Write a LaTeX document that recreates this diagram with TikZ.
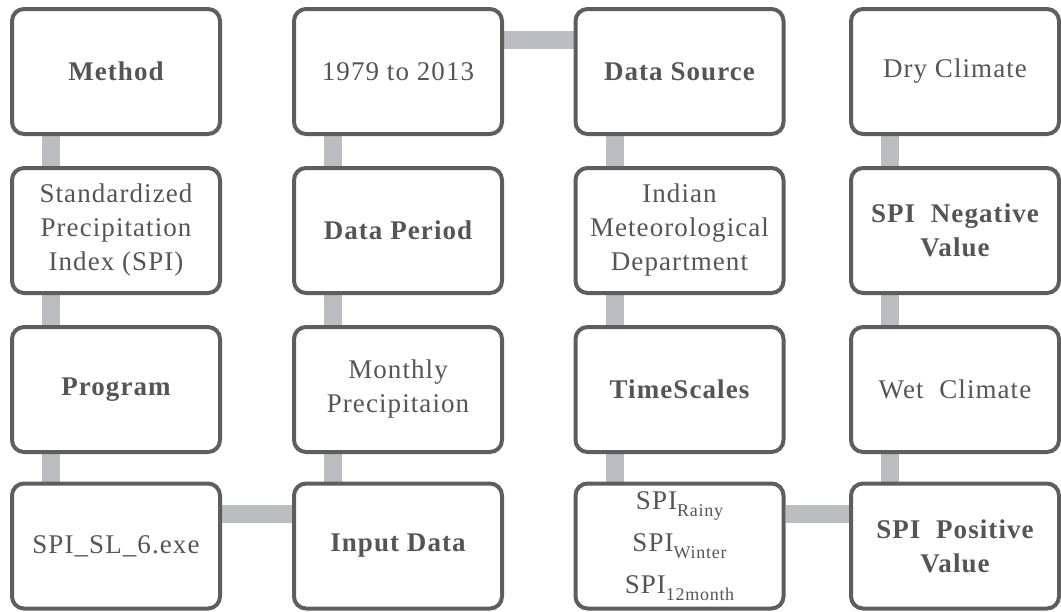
\documentclass[tikz,border=0pt]{standalone}
\usepackage{fontspec}
\setmainfont[LetterSpace=4]{Liberation Serif}
\usetikzlibrary{backgrounds}
\definecolor{boxline}{HTML}{5E5E5E}
\definecolor{bargray}{HTML}{BCBDC0}
\definecolor{txt}{HTML}{555555}
\newcommand{\subtxt}[1]{\raisebox{-7pt}{\fontsize{18}{18}\selectfont #1}}
\begin{document}
\begin{tikzpicture}[x=1pt,y=-1pt,
  card/.style={draw=boxline,line width=4pt,rounded corners=12pt,fill=white,
    minimum width=208pt,minimum height=125pt,inner sep=0pt,align=center,
    text=txt,font=\fontsize{27}{34}\selectfont},
  bcard/.style={card,font=\fontsize{27}{34}\selectfont\bfseries},
  bar/.style={draw=bargray,line width=18pt,line cap=butt}]
\useasboundingbox (0,0) rectangle (1061,611);
% column 1
\node[bcard] (m)  at (116,71.5) {Method};
\node[card]  (spi) at (116,230.5) {Standardized\\Precipitation\\Index (SPI)};
\node[bcard] (prog) at (116,389.5) {Program};
\node[card]  (exe) at (116,546) {SPI\_SL\_6.exe};
% column 2
\node[card]  (yr) at (398,71.5) {1979 to 2013};
\node[bcard] (dp) at (398,230.5) {Data Period};
\node[card]  (mp) at (398,389.5) {Monthly\\Precipitaion};
\node[bcard] (in) at (398,546) {Input Data};
% column 3
\node[bcard] (ds) at (679.5,71.5) {Data Source};
\node[card]  (imd) at (679.5,230.5) {Indian\\Meteorological\\Department};
\node[bcard] (ts) at (679.5,389.5) {TimeScales};
\node[card,font=\fontsize{27}{42}\selectfont] (sub) at (679.5,546) {SPI\subtxt{Rainy}\\SPI\subtxt{Winter}\\SPI\subtxt{12month}};
% column 4
\node[card]  (dry) at (955,71.5) {Dry Climate};
\node[bcard] (neg) at (955,230.5) {SPI\ \ Negative\\Value};
\node[card]  (wet) at (955,389.5) {Wet\ \ Climate};
\node[bcard] (pos) at (955,546) {SPI\ \ Positive\\Value};
\begin{pgfonlayer}{background}
\foreach \a/\b in {m/spi,spi/prog,prog/exe,yr/dp,dp/mp,mp/in,ds/imd,imd/ts,ts/sub,dry/neg,neg/wet,wet/pos}
  \draw[bar] ([xshift=41pt]\a.south west) -- ([xshift=41pt]\b.north west);
\draw[bar] ([yshift=32pt]exe.east) -- ([yshift=32pt]in.west);
\draw[bar] ([yshift=32pt]sub.east) -- ([yshift=32pt]pos.west);
\draw[bar] ([yshift=32pt]yr.east) -- ([yshift=32pt]ds.west);
\end{pgfonlayer}
\end{tikzpicture}
\end{document}
